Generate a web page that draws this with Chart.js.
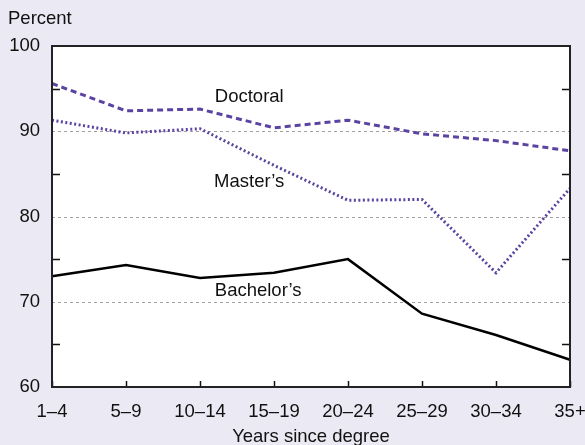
<!DOCTYPE html>
<html lang="en">

<head>
  <meta charset="UTF-8">
  <script src="https://cdn.jsdelivr.net/npm/chart.js"></script>
  <title>Percent by years since degree</title>
  <style>
    html, body {
      margin: 0;
      padding: 0;
      background: #ebe9f3;
    }
    #wrap {
      width: 585px;
      height: 445px;
    }
  </style>
</head>

<body>
  <div id="wrap"><canvas id="myChart" width="585" height="445"></canvas></div>

  <script>
    const categories = ['1–4', '5–9', '10–14', '15–19', '20–24', '25–29', '30–34', '35+'];
    const doctoral = [95.6, 92.4, 92.6, 90.4, 91.3, 89.7, 88.9, 87.7];
    const masters = [91.3, 89.8, 90.3, 86.0, 81.9, 82.0, 73.4, 83.3];
    const bachelors = [73.0, 74.3, 72.8, 73.4, 75.0, 68.6, 66.1, 63.2];
    const yTicks = [60, 70, 80, 90, 100];
    const minorTicks = [65, 75, 85, 95];

    const FONT = '"Liberation Sans", Arial, Helvetica, sans-serif';
    const FS = 18.5;
    const purple = '#5b43a2';

    // series labels placed inside the plot
    const seriesLabels = [
      { text: 'Doctoral', x: 2.2, y: 94.0 },
      { text: 'Master’s', x: 2.19, y: 84.0 },
      { text: 'Bachelor’s', x: 2.2, y: 71.3 },
    ];

    const decor = {
      id: 'decor',
      beforeDraw(chart) {
        const { ctx, chartArea: a } = chart;
        ctx.save();
        ctx.fillStyle = '#ebe9f3';
        ctx.fillRect(0, 0, chart.width, chart.height);
        ctx.fillStyle = '#ffffff';
        ctx.fillRect(a.left, a.top, a.right - a.left, a.bottom - a.top);

        const y = chart.scales.y;
        // dotted gridlines
        ctx.strokeStyle = '#a0a0a0';
        ctx.lineWidth = 1;
        ctx.setLineDash([3, 3]);
        [70, 80, 90].forEach(v => {
          const py = Math.round(y.getPixelForValue(v)) + 0.5;
          ctx.beginPath();
          ctx.moveTo(a.left, py);
          ctx.lineTo(a.right, py);
          ctx.stroke();
        });
        ctx.setLineDash([]);
        ctx.restore();
      },
      afterDatasetsDraw(chart) {
        const { ctx, chartArea: a } = chart;
        const y = chart.scales.y;
        const x = chart.scales.x;
        ctx.save();
        // minor ticks, inside on both sides
        ctx.strokeStyle = '#111';
        ctx.lineWidth = 1.5;
        minorTicks.forEach(v => {
          const py = Math.round(y.getPixelForValue(v)) + 0.5;
          ctx.beginPath();
          ctx.moveTo(a.left, py);
          ctx.lineTo(a.left + 8, py);
          ctx.moveTo(a.right, py);
          ctx.lineTo(a.right - 8, py);
          ctx.stroke();
        });
        // x ticks pointing up
        categories.forEach((c, i) => {
          const px = Math.round(x.getPixelForValue(i)) + 0.5;
          ctx.beginPath();
          ctx.moveTo(px, a.bottom);
          ctx.lineTo(px, a.bottom - 6);
          ctx.stroke();
        });
        // frame
        ctx.strokeStyle = '#222';
        ctx.lineWidth = 2;
        ctx.strokeRect(a.left, a.top, a.right - a.left, a.bottom - a.top);

        // series labels
        ctx.fillStyle = '#111';
        ctx.font = FS + 'px ' + FONT;
        ctx.textAlign = 'left';
        ctx.textBaseline = 'middle';
        seriesLabels.forEach(l => {
          ctx.fillText(l.text, x.getPixelForValue(l.x), y.getPixelForValue(l.y));
        });

        // unit label
        ctx.fillText('Percent', 8, 19);
        ctx.restore();
      }
    };

    const ctx = document.getElementById('myChart').getContext('2d');
    const myChart = new Chart(ctx, {
      type: 'line',
      data: {
        labels: categories,
        datasets: [{
          label: 'Doctoral',
          data: doctoral,
          borderColor: purple,
          borderWidth: 3,
          borderDash: [6, 4],
          pointRadius: 0,
          tension: 0
        }, {
          label: 'Master’s',
          data: masters,
          borderColor: purple,
          borderWidth: 3,
          borderDash: [2, 2.5],
          pointRadius: 0,
          tension: 0
        }, {
          label: 'Bachelor’s',
          data: bachelors,
          borderColor: '#000',
          borderWidth: 2.5,
          pointRadius: 0,
          tension: 0
        }]
      },
      options: {
        responsive: false,
        animation: false,
        devicePixelRatio: 1,
        layout: {
          padding: { top: 46, right: 15, left: 0, bottom: 0 }
        },
        plugins: {
          legend: { display: false },
          tooltip: { enabled: false }
        },
        scales: {
          x: {
            offset: false,
            grid: { display: false, drawTicks: false },
            border: { display: false },
            ticks: {
              color: '#111',
              font: { family: FONT, size: FS },
              padding: 14,
              maxRotation: 0,
              autoSkip: false
            },
            title: {
              display: true,
              text: 'Years since degree',
              color: '#111',
              font: { family: FONT, size: FS },
              padding: { top: 0, bottom: -3 }
            },
            afterFit(scale) {
              scale.height = 58;
              scale.paddingLeft = 0;
              scale.paddingRight = 0;
            }
          },
          y: {
            min: 60,
            max: 100,
            grid: { display: false, drawTicks: false },
            border: { display: false },
            afterBuildTicks(scale) {
              scale.ticks = yTicks.map(v => ({ value: v }));
            },
            ticks: {
              color: '#111',
              font: { family: FONT, size: FS },
              padding: 12
            },
            afterFit(scale) {
              scale.width = 52;
              scale.paddingTop = 0;
              scale.paddingBottom = 0;
            }
          }
        }
      },
      plugins: [decor]
    });
  </script>

</body>

</html>
